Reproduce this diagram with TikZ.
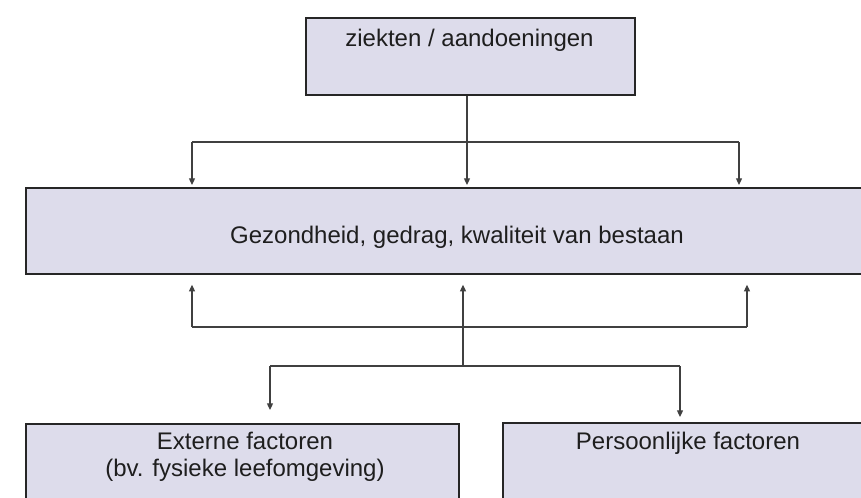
\documentclass[tikz,border=0pt]{standalone}
\usepackage{fontspec}
\setmainfont{Liberation Sans}
\usepackage{xcolor}
\usepackage{tikz}
\usetikzlibrary{arrows.meta}

\definecolor{boxfill}{RGB}{221,220,235}
\definecolor{txtgray}{RGB}{30,30,30}

\begin{document}
\begin{tikzpicture}[
    x=0.75pt, y=-0.75pt,
    box/.style={draw=black!85, fill=boxfill, line width=1.3pt, anchor=north west, inner sep=0pt},
    txt/.style={align=center, text=txtgray, font=\fontsize{18pt}{20pt}\selectfont},
    line/.style={draw=black!75, line width=0.9pt},
    arr/.style={line, -{Triangle[length=5pt, width=4.5pt]}},
]
\useasboundingbox (0,0) rectangle (861,497);
\clip (0,0) rectangle (861,497);

% Boxes
\node[box, minimum width=246.75pt, minimum height=57.75pt] (ziekte) at (305,17) {};
\node[box, minimum width=648pt, minimum height=64.5pt] (gezond) at (25,187) {};
\node[box, minimum width=324.75pt, minimum height=75pt] (extern) at (25,423) {};
\node[box, minimum width=279pt, minimum height=75pt] (persoon) at (502,422) {};

% Texts
\node[txt] (ziektetxt) at (469.5,40) {ziekten / aandoeningen};
\node[txt] (gezondtxt) at (457,237) {Gezondheid, gedrag, kwaliteit van bestaan};
\node[txt] (externtxt) at (245,457) {Externe factoren\\(bv. fysieke leefomgeving)};
\node[txt] (persoontxt) at (688,443) {Persoonlijke factoren};

% Junctions
\coordinate (tl) at (192,142);
\coordinate (tr) at (739,142);
\coordinate (bl) at (192,327);
\coordinate (br) at (747,327);
\coordinate (bm) at (463,366);
\coordinate (bll) at (270,366);
\coordinate (brr) at (680,366);

% Arrows top
\draw[line] (tl) -- (tr);
\draw[arr, shorten >=1.5pt] (ziekte.south -| 467,0) -- (gezond.north -| 467,0);
\draw[arr, shorten >=1.5pt] (tl) -- (tl |- gezond.north);
\draw[arr, shorten >=1.5pt] (tr) -- (tr |- gezond.north);

% Arrows bottom
\draw[line] (bl) -- (br);
\draw[line] (bll) -- (brr);
\draw[arr, shorten >=7.5pt] (bl) -- (bl |- gezond.south);
\draw[arr, shorten >=7.5pt] (bm) -- (bm |- gezond.south);
\draw[arr, shorten >=7.5pt] (br) -- (br |- gezond.south);
\draw[arr, shorten >=9.75pt] (bll) -- (bll |- extern.north);
\draw[arr, shorten >=3.75pt] (brr) -- (brr |- persoon.north);

\end{tikzpicture}
\end{document}
